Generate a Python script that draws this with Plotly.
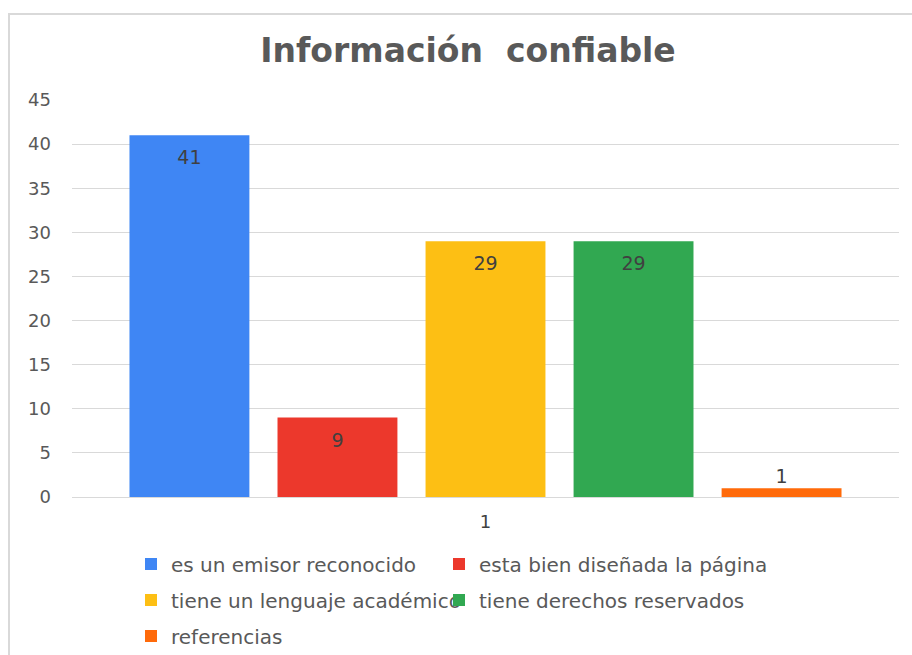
import plotly.graph_objects as go

categories = ["1"]
series_names = [
    "es un emisor reconocido",
    "esta bien diseñada la página",
    "tiene un lenguaje académico",
    "tiene derechos reservados",
    "referencias",
]
series_values = [41, 9, 29, 29, 1]
series_colors = ["#3f86f4", "#ec382c", "#fdbf14", "#31a851", "#ff6a0a"]
y_ticks = [0, 5, 10, 15, 20, 25, 30, 35, 40, 45]

FONT = "DejaVu Sans"
W, H = 912, 655
ML, MR, MT, MB = 72, 13, 100, 158
PW = W - ML - MR
PH = H - MT - MB


def px_x(p):
    return (p - ML) / PW


def px_y(p):
    return (H - MB - p) / PH


# legend grid: (column text-left pixel, row center pixel)
legend_cells = [(171, 564), (479, 564), (171, 600), (479, 600), (171, 636)]
legend_ids = ["legend"] + ["legend%d" % k for k in range(2, len(series_names) + 1)]

fig = go.Figure()
for i, (name, val, col, lg) in enumerate(zip(series_names, series_values, series_colors, legend_ids)):
    fig.add_trace(go.Bar(
        x=categories, y=[val], name=name, legend=lg,
        offsetgroup=str(i),
        marker=dict(color=col, line=dict(width=0)),
    ))
for i, val in enumerate(series_values):
    inside = val > 3
    fig.add_trace(go.Scatter(
        x=categories, y=[val], mode="markers+text" if inside else "text",
        showlegend=False, offsetgroup=str(i), hoverinfo="skip",
        marker=dict(size=22, color="rgba(0,0,0,0)"),
        text=[str(val)],
        textposition="bottom center" if inside else "top center",
        textfont=dict(family=FONT, size=19, color="#404040"),
        cliponaxis=False,
    ))

legend_common = dict(
    orientation="h", xanchor="left", yanchor="middle",
    font=dict(family=FONT, size=20, color="#595959"),
    bgcolor="rgba(0,0,0,0)", itemclick=False, itemdoubleclick=False,
)
legends = {}
for lg, (tx, ty) in zip(legend_ids, legend_cells):
    legends[lg] = dict(x=px_x(tx - 40), y=px_y(ty), **legend_common)

fig.update_layout(
    width=W, height=H,
    margin=dict(l=ML, r=MR, t=MT, b=MB, autoexpand=False),
    paper_bgcolor="white", plot_bgcolor="white",
    barmode="group", bargap=0.105, bargroupgap=0.19,
    scattermode="group", scattergap=0.105,
    title=dict(text="<b>Información  confiable</b>", x=px_x(468), xref="paper",
               xanchor="center", y=1 - 50 / H, yanchor="middle",
               font=dict(family=FONT, size=33, color="#595959")),
    xaxis=dict(type="category", showgrid=False, showline=True, linecolor="#d9d9d9",
               linewidth=1, ticks="", tickfont=dict(family=FONT, size=18, color="#404040"),
               ticklabelstandoff=8),
    yaxis=dict(range=[0, 45], tickvals=y_ticks, showgrid=True, gridcolor="#d9d9d9",
               gridwidth=1, zeroline=False, showline=False, ticks="",
               tickfont=dict(family=FONT, size=18, color="#595959"),
               ticklabelstandoff=20),
    showlegend=True,
    shapes=[dict(type="rect", xref="paper", yref="paper",
                 x0=px_x(9), x1=px_x(W + 20), y0=px_y(H + 20), y1=px_y(14),
                 line=dict(color="#d9d9d9", width=2), fillcolor="rgba(0,0,0,0)",
                 layer="below")],
    **legends,
)

fig.write_html("out.html", config={"displayModeBar": False},
               post_script="document.body.style.margin='0';")
